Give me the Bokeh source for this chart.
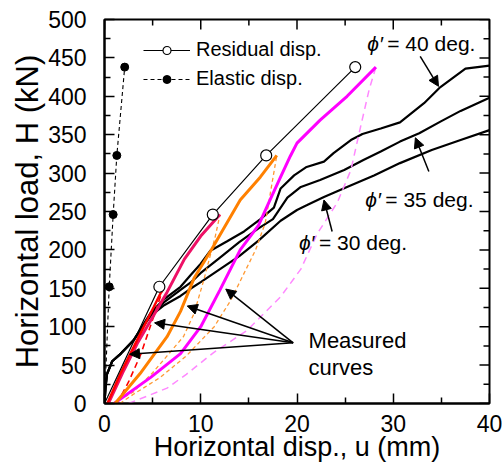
from bokeh.plotting import figure
from bokeh.models import (Range1d, FixedTicker, Label, Arrow, NormalHead, Legend, LegendItem,
                          ColumnDataSource)
from bokeh.embed import file_html
from bokeh.resources import INLINE

FONT = "Liberation Sans"

# ---- test results: load steps with residual / elastic displacement ----
load_steps = [152, 246, 323, 438]           # H (kN)
residual_disp = [5.7, 11.25, 16.8, 26.05]   # u (mm)
elastic_disp = [0.49, 0.9, 1.28, 2.1]       # u (mm)

# ---- calculated curves for three friction angles ----
phi40_u = [0, 0.1, 0.25, 0.8, 1.7, 3.0, 4.0, 4.8, 6.2, 7.9, 9.0, 10.0, 11.0, 12.7, 14.5,
           16.2, 17.6, 18.3, 19.7, 21.0, 22.8, 23.8, 25.6, 26.8, 28.7, 30.7, 33.2, 34.9,
           37.5, 40.0]
phi40_H = [0, 20, 38, 55, 65, 82, 102, 118, 136, 152, 168, 182, 199, 211, 224,
           240, 255, 280, 297, 308, 315, 326, 343, 351, 358, 366, 391, 412,
           436, 440]
phi35_u = [0, 0.1, 0.25, 0.8, 1.7, 3.0, 4.0, 4.8, 6.2, 7.9, 9.0, 10.0, 12.0, 14.0, 16.0,
           17.5, 19.0, 20.4, 22.4, 24.9, 26.9, 28.7, 30.7, 32.7, 34.9, 37.0, 40.0]
phi35_H = [0, 20, 38, 55, 65, 82, 101, 116, 132, 148, 158, 170, 190, 210, 228,
           240, 268, 282, 291, 304, 317, 328, 341, 352, 367, 381, 398]
phi30_u = [0, 0.1, 0.25, 0.8, 1.7, 3.0, 4.0, 4.8, 6.2, 7.9, 9.0, 10.0, 12.0, 14.0, 16.0,
           18.3, 20.0, 21.0, 22.8, 25.2, 28.0, 30.7, 34.0, 37.0, 40.0]
phi30_H = [0, 20, 38, 55, 65, 82, 100, 114, 128, 140, 150, 158, 175, 192, 212,
           238, 252, 258, 269, 282, 297, 313, 330, 343, 356]

# ---- measured loading curves (solid) and reloading curves (dashed) ----
red_u = [0.3, 1.66, 3.05, 4.08, 5.13, 6.16]
red_H = [0, 39, 74, 100, 126, 152]
red_re_u = [1.3, 2.5, 3.8, 5.1, 6.16]
red_re_H = [0, 28, 65, 113, 152]

crimson_u = [0.4, 2.0, 3.4, 4.8, 6.5, 8.3, 10.0, 12.0]
crimson_H = [0, 43, 78, 108, 145, 188, 218, 246]
crimson_re_u = [0.8, 3.0, 5.0, 6.5, 8.2, 9.3, 10.3, 11.5, 12.0]
crimson_re_H = [0, 15, 40, 62, 87, 117, 160, 217, 246]

orange_u = [1.1, 3.7, 6.5, 7.9, 9.3, 11.0, 14.1, 16.2, 17.9]
orange_H = [0, 39, 87, 120, 163, 198, 265, 295, 323]
orange_re_u = [1.6, 3.0, 5.8, 8.5, 11.4, 13.1, 15.7, 16.7, 17.9]
orange_re_H = [0, 12, 34, 62, 100, 134, 200, 235, 323]

magenta_u = [1.0, 4.8, 7.9, 10.0, 12.0, 14.1, 16.0, 17.2, 18.3, 19.3, 20.0, 22.4, 25.2, 28.2]
magenta_H = [0, 34, 65, 100, 148, 200, 232, 265, 295, 322, 339, 369, 400, 438]
magenta_re_u = [2.5, 6.5, 8.5, 11.3, 14.8, 18.3, 20.4, 22.1, 24.2, 25.6, 26.6, 27.5, 28.2]
magenta_re_H = [0, 20, 38, 66, 95, 139, 175, 221, 262, 304, 360, 409, 438]

# ---- axis ticks ----
X_MAX, Y_MAX = 40, 500
x_major = [0, 10, 20, 30, 40]
x_minor = [5, 15, 25, 35]
y_major = list(range(0, 501, 50))
y_minor = list(range(25, 500, 50))

# ---- annotation anchors (data units) ----
phi_labels = ["40", "35", "30"]
phi_label_u = [27.3, 27.1, 20.2]
phi_label_H = [468.7, 265.0, 209.0]
phi_arrow_start = [(32.8, 452), (33.7, 302), (23.65, 224)]
phi_arrow_end = [(34.7, 413), (32.3, 346), (22.8, 265)]
measured_tail = (19.6, 79)
measured_tips = [(2.6, 64), (5.2, 105), (8.6, 127), (12.6, 149)]

W, H = 502, 468
BL, BR, BT, BB = 104, 13, 19, 65
p = figure(width=W, height=H, x_range=Range1d(0, X_MAX), y_range=Range1d(0, Y_MAX),
           output_backend="svg", toolbar_location=None,
           min_border_left=BL, min_border_right=BR, min_border_top=BT, min_border_bottom=BB)
p.grid.visible = False
p.outline_line_color = "black"
p.outline_line_width = 2
p.background_fill_color = "white"
p.border_fill_color = "white"

MAJOR_LEN, MINOR_LEN = 10, 6
p.xaxis.ticker = FixedTicker(ticks=x_major, minor_ticks=x_minor)
p.yaxis.ticker = FixedTicker(ticks=y_major, minor_ticks=y_minor)
for ax in p.xaxis + p.yaxis:
    ax.axis_line_width = 2
    ax.axis_line_color = "black"
    ax.major_tick_in = MAJOR_LEN
    ax.major_tick_out = 0
    ax.minor_tick_in = MINOR_LEN
    ax.minor_tick_out = 0
    ax.major_tick_line_width = 1.5
    ax.minor_tick_line_width = 1.5
    ax.major_tick_line_color = "black"
    ax.minor_tick_line_color = "black"
    ax.major_label_text_font = FONT
    ax.major_label_text_color = "black"
    ax.major_label_text_font_size = "23px"
    ax.axis_label_text_font = FONT
    ax.axis_label_text_font_style = "normal"
    ax.axis_label_text_color = "black"
p.xaxis.major_label_standoff = 11
p.yaxis.major_label_standoff = 18
p.xaxis.axis_label = "Horizontal disp., u (mm)"
p.yaxis.axis_label = "Horizontal load, H (kN)"
p.xaxis.axis_label_text_font_size = "27px"
p.yaxis.axis_label_text_font_size = "31px"
p.xaxis.axis_label_standoff = -3
p.yaxis.axis_label_standoff = 0

# inward tick marks mirrored on the top and right edges of the frame
px_per_x = (W - BL - BR) / X_MAX
px_per_y = (H - BT - BB) / Y_MAX
for ticks, length in ((x_major, MAJOR_LEN), (x_minor, MINOR_LEN)):
    p.segment(x0=ticks, y0=[Y_MAX] * len(ticks), x1=ticks,
              y1=[Y_MAX - length / px_per_y] * len(ticks), line_color="black", line_width=1.5)
for ticks, length in ((y_major, MAJOR_LEN), (y_minor, MINOR_LEN)):
    p.segment(x0=[X_MAX] * len(ticks), y0=ticks, x1=[X_MAX - length / px_per_x] * len(ticks),
              y1=ticks, line_color="black", line_width=1.5)

# calculated curves
for u, Hc in ((phi40_u, phi40_H), (phi35_u, phi35_H), (phi30_u, phi30_H)):
    p.line(u, Hc, line_color="black", line_width=2.2)

# reloading (dashed) curves
p.line(magenta_re_u, magenta_re_H, line_color="#FF88FF", line_width=1.5, line_dash="7 5")
p.line(orange_re_u, orange_re_H, line_color="#FF9933", line_width=1.3, line_dash="4 3")
p.line(crimson_re_u, crimson_re_H, line_color="#FF9933", line_width=1.3, line_dash="4 3")
p.line(red_re_u, red_re_H, line_color="#FF0000", line_width=1.6, line_dash="6 4")

# loading curves
p.line(magenta_u, magenta_H, line_color="#FF00FF", line_width=3)
p.line(orange_u, orange_H, line_color="#FF8000", line_width=3)
p.line(crimson_u, crimson_H, line_color="#EE1166", line_width=3)
p.line(red_u, red_H, line_color="#FF0000", line_width=2.5)

# residual and elastic displacement
res_src = ColumnDataSource(dict(u=residual_disp, H=load_steps))
ela_src = ColumnDataSource(dict(u=elastic_disp, H=load_steps))
res_line = p.line([0] + residual_disp, [0] + load_steps, line_color="black", line_width=1.2)
res_pts = p.scatter("u", "H", source=res_src, size=11, marker="circle",
                    fill_color="white", line_color="black", line_width=1.2)
ela_line = p.line([0] + elastic_disp, [0] + load_steps, line_color="black", line_width=1.1,
                  line_dash="4 3")
ela_pts = p.scatter("u", "H", source=ela_src, size=8, marker="circle",
                    fill_color="black", line_color="black")

legend = Legend(items=[LegendItem(label="Residual disp.", renderers=[res_line, res_pts]),
                       LegendItem(label="Elastic disp.", renderers=[ela_line, ela_pts])],
                location=(39, 313), glyph_width=47, glyph_height=20, label_height=20,
                label_standoff=6, spacing=6, padding=0, margin=0,
                border_line_color=None, background_fill_alpha=0,
                label_text_font=FONT, label_text_font_size="20px",
                label_text_color="black")
p.add_layout(legend)

# friction angle labels with arrows
for txt, u, Hl in zip(phi_labels, phi_label_u, phi_label_H):
    p.add_layout(Label(x=u, y=Hl, text="\u03d5\u2032", text_font=FONT, text_font_style="italic",
                       text_font_size="21px", text_baseline="middle", text_color="black"))
    p.add_layout(Label(x=u, y=Hl, x_offset=20, text="= " + txt + " deg.", text_font=FONT,
                       text_font_size="21px", text_baseline="middle", text_color="black"))
for (x0, y0), (x1, y1) in zip(phi_arrow_start, phi_arrow_end):
    p.add_layout(Arrow(x_start=x0, y_start=y0, x_end=x1, y_end=y1, line_width=1.5,
                       end=NormalHead(size=10, fill_color="black", line_color="black")))

# measured curves label with arrows
for (x1, y1) in measured_tips:
    p.add_layout(Arrow(x_start=measured_tail[0], y_start=measured_tail[1], x_end=x1, y_end=y1,
                       line_width=1.5,
                       end=NormalHead(size=10, fill_color="black", line_color="black")))
p.add_layout(Label(x=21.2, y=82, text="Measured", text_font=FONT, text_font_size="22px",
                   text_baseline="middle", text_color="black"))
p.add_layout(Label(x=21.2, y=47, text="curves", text_font=FONT, text_font_size="22px",
                   text_baseline="middle", text_color="black"))

open("out.html", "w").write(file_html(p, INLINE))
